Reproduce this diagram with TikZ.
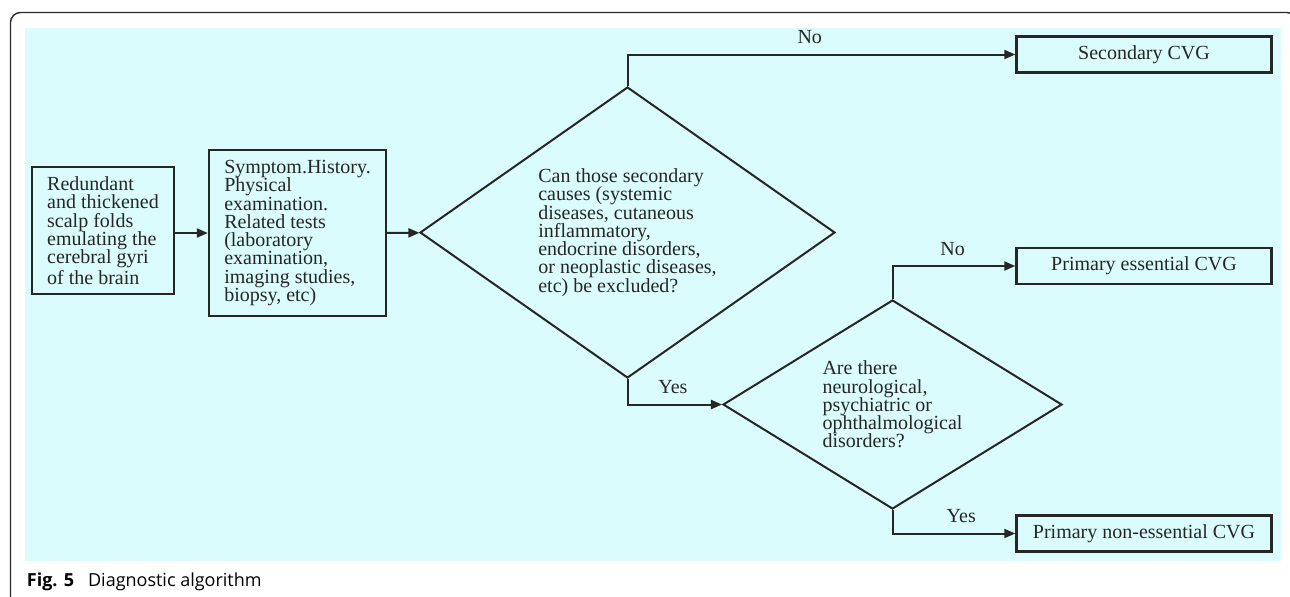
\documentclass[tikz,border=0pt]{standalone}
\usepackage{fontspec}
\setmainfont{Liberation Serif}
\newfontfamily\capfont{Open Sans}
\usetikzlibrary{arrows.meta,shapes.geometric}
\definecolor{bg}{HTML}{DAFCFC}
\definecolor{ln}{HTML}{262626}
\definecolor{frm}{HTML}{2A2A2A}
\tikzset{
  txt/.style={font=\fontsize{10}{9.15}\selectfont, text=ln},
  box/.style={txt, draw=ln, line width=1.2pt, align=left, inner sep=0pt},
  outbox/.style={txt, draw=ln, line width=1.2pt, minimum width=127.5pt, minimum height=18pt, inner sep=0pt},
  dec/.style={txt, draw=ln, line width=1pt, diamond, align=left, inner sep=0pt},
  flow/.style={draw=ln, line width=1pt, -{Triangle[length=5.5pt,width=4.5pt]}},
  lbl/.style={txt, above=1.5pt},
}

\begin{document}
\begin{tikzpicture}[x=0.5pt,y=-0.5pt]
  \useasboundingbox (0,0) rectangle (1290,596);
  \begin{scope}
    \clip (0,0) rectangle (1290,596);
    \draw[frm, line width=0.7pt, rounded corners=5pt] (10.5,12.5) rectangle (1297,620);
  \end{scope}
  \fill[bg] (25,28) rectangle (1281,561);

  % left column
  \node[box, minimum width=71pt, minimum height=63.5pt] (sign) at (103,230.5)
    {Redundant\\and thickened\\scalp folds\\emulating the\\cerebral gyri\\of the brain};
  \node[box, minimum width=88.5pt, minimum height=83pt] (hist) at (297.5,233)
    {Symptom.History.\\Physical\\examination.\\Related tests\\(laboratory\\examination,\\imaging studies,\\biopsy, etc)};

  % decisions
  \node[dec, minimum width=207.5pt, minimum height=145.5pt, aspect=1.43] (excl) at (627.5,232.5)
    {Can those secondary\\causes (systemic\\diseases, cutaneous\\inflammatory,\\endocrine disorders,\\or neoplastic diseases,\\etc) be excluded?};
  \node[dec, minimum width=169.5pt, minimum height=104.5pt, aspect=1.62] (neuro) at (892.5,404.5)
    {Are there\\neurological,\\psychiatric or\\ophthalmological\\disorders?};

  % outcomes
  \node[outbox] (sec)  at (1144,54.5) {Secondary CVG};
  \node[outbox] (pes)  at (1144,266)  {Primary essential CVG};
  \node[outbox] (pnes) at (1144,533.5) {Primary non-essential CVG};

  \draw[flow] (sign.east |- hist.west) -- (hist.west);
  \draw[flow] (hist) -- (excl);
  \draw[flow] (excl.north) |- node[lbl, pos=0.735] {No} (sec);
  \draw[flow] (excl.south) |- node[lbl, pos=0.74] {Yes} (neuro);
  \draw[flow] (neuro.north) |- node[lbl, pos=0.745] {No} (pes);
  \draw[flow] (neuro.south) |- node[lbl, pos=0.78] {Yes} (pnes);

  \node[anchor=base west, inner sep=0pt, font=\capfont\fontsize{9}{11}\selectfont] (cap) at (26.5,586)
    {\textbf{Fig. 5}\hspace{7pt}Diagnostic algorithm};
\end{tikzpicture}
\end{document}
